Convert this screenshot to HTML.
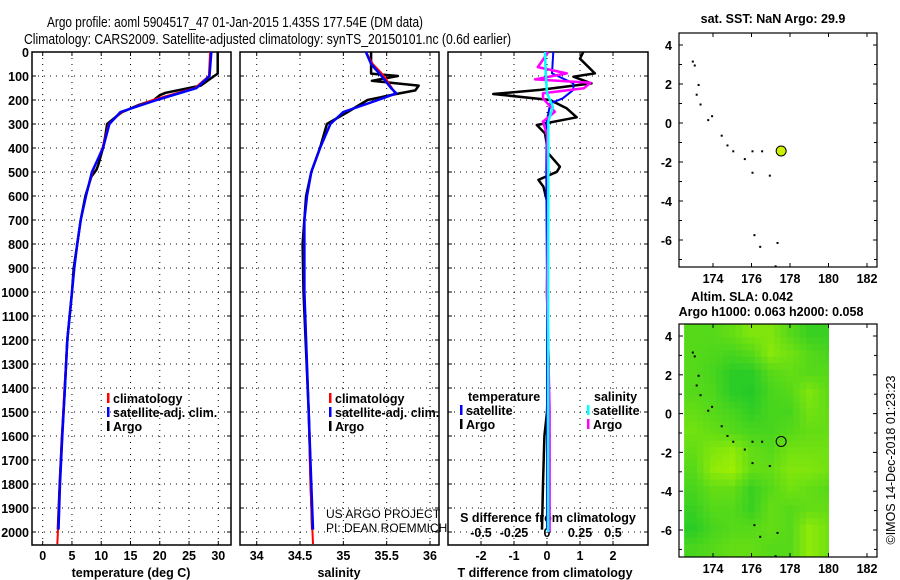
<!DOCTYPE html>
<html><head><meta charset="utf-8"><style>
html,body{margin:0;padding:0;background:#fff;}
svg{display:block;font-family:"Liberation Sans",Arial,sans-serif;}
</style></head><body>
<svg id="c" width="900" height="580" viewBox="0 0 900 580" xmlns="http://www.w3.org/2000/svg">
<text x="47" y="27" font-size="15" textLength="376" lengthAdjust="spacingAndGlyphs">Argo profile: aoml 5904517_47 01-Jan-2015 1.435S 177.54E (DM data)</text>
<text x="24" y="44" font-size="15" textLength="487" lengthAdjust="spacingAndGlyphs">Climatology: CARS2009. Satellite-adjusted climatology: synTS_20150101.nc (0.6d earlier)</text>
<g id="g"></g>
</svg>
<script>
// ---------- data ----------
const depthTicks=[0,100,200,300,400,500,600,700,800,900,1000,1100,1200,1300,1400,1500,1600,1700,1800,1900,2000];
const tTicks=[0,5,10,15,20,25,30];
const sTicks=[34,34.5,35,35.5,36];
const dtTicks=[-2,-1,0,1,2];
const dsTicks=[-0.5,-0.25,0,0.25,0.5];
const dsTickLabels=["-0.5","-0.25","0","0.25","0.5"];
const climTdepth=[0,100,150,200,250,300,400,500,600,700,800,900,1000,1200,1400,1600,1800,2000,2050];
const climT=[28.6,28.4,26,18.8,13.5,11.3,10.2,8.5,7.4,6.5,5.9,5.4,5.0,4.2,3.7,3.3,2.9,2.6,2.5];
const satTdepth=[0,100,150,200,250,300,400,500,600,700,800,900,1000,1200,1400,1600,1800,1990];
const satT=[28.8,28.5,26.3,19.5,13.3,11.4,10.3,8.4,7.4,6.5,5.9,5.4,5.0,4.2,3.8,3.35,2.95,2.7];
const argoTdepth=[0,90,100,140,170,180,200,220,250,270,300,350,400,470,490,520,600,700,820,900,1000,1200,1400,1600,1800,1990];
const argoT=[29.9,29.9,29.3,27.0,21,20,19,16.5,13.6,12.5,11.0,10.7,10.3,9.5,9.2,8.3,7.3,6.5,5.8,5.3,5.0,4.2,3.8,3.3,2.9,2.6];
const climSdepth=[0,50,100,150,175,200,250,300,400,500,600,700,1000,1200,1500,1800,2050];
const climS=[35.26,35.34,35.47,35.56,35.6,35.4,35.0,34.85,34.73,34.63,34.58,34.55,34.55,34.57,34.6,34.62,34.65];
const satSdepth=[0,50,100,150,172,200,250,300,400,500,600,700,1000,1200,1500,1800,1990];
const satS=[35.26,35.32,35.44,35.55,35.61,35.4,35.0,34.85,34.73,34.63,34.58,34.55,34.55,34.57,34.6,34.63,34.65];
const argoSdepth=[0,50,90,100,120,140,160,175,200,250,300,400,500,600,800,1000,1500,1990];
const argoS=[35.32,35.32,35.32,35.63,35.33,35.87,35.83,35.61,35.28,35.05,34.81,34.73,34.63,34.57,34.53,34.54,34.6,34.64];
const dTargoDepth=[0,28,89,103,131,158,175,200,235,272,304,339,422,478,499,533,561,644,783,1000,1300,1500,1600,1800,1990];
const dTargo=[1.1,1.0,1.45,0.8,1.35,-0.21,-1.63,0.09,0.6,0.9,-0.31,-0.06,0.04,0.39,0.3,-0.26,-0.11,0.04,0.02,0.0,0.05,0.0,-0.08,-0.12,-0.15];
const dTsatDepth=[0,89,131,158,193,214,290,500,1000,1500,1990];
const dTsat=[0.19,0.15,0.8,0.8,0.48,0.1,-0.01,-0.02,0.0,0.0,0.0];
const dSargoDepth=[0,63,89,114,128,151,172,193,249,290,345,600,1000,1500,1800,2000];
const dSargo=[0.01,-0.07,0.15,-0.09,0.33,0.28,-0.03,-0.03,0.06,-0.03,0.0,0.01,0.0,0.02,0.02,0.02];
const dSsatDepth=[0,89,172,228,290,600,1000,1500,2000];
const dSsat=[-0.015,-0.01,0.0,0.045,0.01,0.01,0.008,0.008,0.008];
// map data
const lonTicks=[174,176,178,180,182];
const latTicks=[4,2,0,-2,-4,-6];
const argoLon=177.54, argoLat=-1.435;
const slaLon0=172.5, slaLat0=4.6;
const slaGrid=[
[0.4,0.4,0.5,0.7,0.7,0.4,0.2,0.2],
[0.4,0.35,0.3,0.4,0.75,0.6,0.4,0.3],
[0.4,0.3,0.1,0.1,0.4,0.5,0.4,0.4],
[0.4,0.35,0.1,0.05,0.3,0.4,0.7,0.45],
[0.5,0.4,0.3,0.15,0.3,0.3,0.6,0.5],
[0.6,0.5,0.4,0.3,0.3,0.4,0.5,0.5],
[0.5,0.7,0.8,0.5,0.4,0.6,0.6,0.6],
[0.4,0.8,0.9,0.5,0.5,0.7,0.7,0.6],
[0.3,0.5,0.5,0.2,0.4,0.6,0.5,0.4],
[0.2,0.4,0.4,0.2,0.5,0.4,0.5,0.5],
[0.1,0.3,0.4,0.4,0.5,0.4,0.8,0.6],
[0.3,0.4,0.5,0.5,0.4,0.4,0.8,0.6]];
const islandLon=[172.9,173.0,173.2,173.1,173.3,173.7,173.9,174.4,174.7,175.0,175.6,176.0,176.5,176.0,176.9,176.1,176.4,177.3,177.2];
const islandLat=[3.2,3.0,2.0,1.5,1.0,0.2,0.4,-0.6,-1.1,-1.4,-1.8,-1.4,-1.4,-2.5,-2.65,-5.7,-6.3,-6.1,-7.3];

// ---------- drawing ----------
const NS="http://www.w3.org/2000/svg";
const G=document.getElementById('g');
function mk(tag,attrs,parent){const e=document.createElementNS(NS,tag);for(const k in attrs)e.setAttribute(k,attrs[k]);(parent||G).appendChild(e);return e;}
function txt(x,y,s,size,anchor,bold,parent){const t=mk('text',{x:x,y:y,'font-size':size,'text-anchor':anchor||'start'},parent);if(bold)t.setAttribute('font-weight','bold');t.textContent=s;return t;}

const PT=52, PB=545;
function yD(d){return PT+d*0.24;}
function makePanel(name,x0,x1,vmin,vmax){
  const g=mk('g',{});
  
  
  return {g:g,x0:x0,x1:x1,sx:v=>x0+(v-vmin)/(vmax-vmin)*(x1-x0)};
}
function grid(p,xt){
  depthTicks.forEach(d=>{const y=yD(d);mk('line',{x1:p.x0,x2:p.x1,y1:y,y2:y,stroke:'#000','stroke-width':1,'stroke-dasharray':'1,5'},p.g);
    mk('line',{x1:p.x0,x2:p.x0+4,y1:y,y2:y,stroke:'#000'},p.g);mk('line',{x1:p.x1-4,x2:p.x1,y1:y,y2:y,stroke:'#000'},p.g);});
  xt.forEach(v=>{const x=p.sx(v);mk('line',{x1:x,x2:x,y1:PT,y2:PB,stroke:'#000','stroke-dasharray':'1,5'},p.g);
    mk('line',{x1:x,x2:x,y1:PB-4,y2:PB,stroke:'#000'},p.g);mk('line',{x1:x,x2:x,y1:PT,y2:PT+4,stroke:'#000'},p.g);});
  mk('rect',{x:p.x0,y:PT,width:p.x1-p.x0,height:PB-PT,fill:'none',stroke:'#000','stroke-width':1.5},p.g);
}
function line(p,depths,vals,sxf,color,w,name){
  const pts=depths.map((d,i)=>sxf(vals[i]).toFixed(1)+','+yD(d).toFixed(1)).join(' ');
  const e=mk('polyline',{points:pts,fill:'none',stroke:color,'stroke-width':w,'stroke-linejoin':'round'},p.g);
  
  
}
function legendEntry(p,x,y,color,label,name){
  const g=mk('g',{},p.g);
  
  
  mk('rect',{x:x,y:y-10,width:2.5,height:10,fill:color},g);
  txt(x+6,y,label,12.5,'start',true,g);
}

// Panel 1: temperature
const p1=makePanel('temperature-panel',32,231,(32-42.7)/5.853,(231-42.7)/5.853);
grid(p1,tTicks);
depthTicks.forEach(d=>txt(29,yD(d)+5,String(d),12.5,'end',true,p1.g));
tTicks.forEach(v=>txt(p1.sx(v),560,String(v),12.5,'middle',true,p1.g));
txt(131,577,'temperature (deg C)',12.5,'middle',true,p1.g);
line(p1,argoTdepth,argoT,p1.sx,'#000',2.5,'argo-temperature-line');
line(p1,climTdepth,climT,p1.sx,'#f00',2,'clim-temperature-line');
line(p1,satTdepth,satT,p1.sx,'#00f',2.5,'satellite-temperature-line');
legendEntry(p1,107,403,'#f00','climatology','legend-climatology');
legendEntry(p1,107,417,'#00f','satellite-adj. clim.','legend-satellite');
legendEntry(p1,107,431,'#000','Argo','legend-argo');

// Panel 2: salinity
const p2=makePanel('salinity-panel',240,439,34+(240-256.7)/86.65,34+(439-256.7)/86.65);
grid(p2,sTicks);
sTicks.forEach(v=>txt(p2.sx(v),560,String(v),12.5,'middle',true,p2.g));
txt(339,577,'salinity',12.5,'middle',true,p2.g);
line(p2,argoSdepth,argoS,p2.sx,'#000',2.5,'argo-salinity-line');
line(p2,climSdepth,climS,p2.sx,'#f00',2,'clim-salinity-line');
line(p2,satSdepth,satS,p2.sx,'#00f',2.5,'satellite-salinity-line');
legendEntry(p2,329,403,'#f00','climatology','legend-climatology-s');
legendEntry(p2,329,417,'#00f','satellite-adj. clim.','legend-satellite-s');
legendEntry(p2,329,431,'#000','Argo','legend-argo-s');
txt(326,518,'US ARGO PROJECT',12,'start',false,p2.g);
txt(326,532,'PI: DEAN ROEMMICH',12,'start',false,p2.g);

// Panel 3: differences
const p3=makePanel('difference-panel',448,648,-3,(648-547)/33);
const sxS=v=>547+v*132;
grid(p3,dtTicks);
dtTicks.forEach(v=>txt(p3.sx(v),560,String(v),12.5,'middle',true,p3.g));
dsTicks.forEach((v,i)=>txt(sxS(v),537,dsTickLabels[i],12.5,'middle',true,p3.g));
txt(548,522,'S difference from climatology',12.5,'middle',true,p3.g);
txt(545,577,'T difference from climatology',12.5,'middle',true,p3.g);
line(p3,dTargoDepth,dTargo,p3.sx,'#000',2.5,'argo-tdiff-line');
line(p3,dTsatDepth,dTsat,p3.sx,'#00f',2,'satellite-tdiff-line');
line(p3,dSargoDepth,dSargo,sxS,'#f0f',2.5,'argo-sdiff-line');
line(p3,dSsatDepth,dSsat,sxS,'#0ff',2.5,'satellite-sdiff-line');
txt(468,401,'temperature',12.5,'start',true,p3.g);
txt(594,401,'salinity',12.5,'start',true,p3.g);
legendEntry(p3,460,415,'#00f','satellite','legend-tdiff-satellite');
legendEntry(p3,460,429,'#000','Argo','legend-tdiff-argo');
legendEntry(p3,587,415,'#0ff','satellite','legend-sdiff-satellite');
legendEntry(p3,587,429,'#f0f','Argo','legend-sdiff-argo');

// Maps
function makeMap(name,top,bot,lat4y,latm6y){
  const g=mk('g',{});
  
  
  const L=679,R=877;
  const mx=lon=>713+(lon-174)*19.25;
  const my=lat=>lat4y+(4-lat)*(latm6y-lat4y)/10;
  return {g,L,R,top,bot,mx,my};
}
function mapFrame(m){
  mk('rect',{x:m.L,y:m.top,width:m.R-m.L,height:m.bot-m.top,fill:'none',stroke:'#000','stroke-width':1.2},m.g);
  lonTicks.forEach(v=>{const x=m.mx(v);mk('line',{x1:x,x2:x,y1:m.bot,y2:m.bot-4,stroke:'#000'},m.g);mk('line',{x1:x,x2:x,y1:m.top,y2:m.top+4,stroke:'#000'},m.g);
    txt(x,m.bot+16,String(v),12.5,'middle',true,m.g);});
  latTicks.forEach(v=>{const y=m.my(v);mk('line',{x1:m.L,x2:m.L+4,y1:y,y2:y,stroke:'#000'},m.g);mk('line',{x1:m.R,x2:m.R-4,y1:y,y2:y,stroke:'#000'},m.g);
    txt(m.L-7,y+5,String(v),12.5,'end',true,m.g);});
  [5,3,1,-1,-3,-5,-7].forEach(v=>{const y=m.my(v);if(y>m.top&&y<m.bot){mk('line',{x1:m.L,x2:m.L+3,y1:y,y2:y,stroke:'#000'},m.g);mk('line',{x1:m.R,x2:m.R-3,y1:y,y2:y,stroke:'#000'},m.g);}});
}
function islands(m){
  islandLon.forEach((lon,i)=>{const x=m.mx(lon),y=m.my(islandLat[i]);
    const e=mk('rect',{x:x,y:y,width:2,height:2,fill:'#000'},m.g);
    
    });
}
const m1=makeMap('sst-map',33,267,45,240);
txt(773,23,'sat. SST: NaN Argo: 29.9',12.5,'middle',true,m1.g);
islands(m1);
mapFrame(m1);
const c1=mk('circle',{cx:m1.mx(argoLon),cy:m1.my(argoLat),r:5,fill:'#ccf000',stroke:'#000'},m1.g);



const m2=makeMap('sla-map',324,557,336,530);
txt(742,301,'Altim. SLA: 0.042',12.5,'middle',true,m2.g);
txt(771,316,'Argo h1000: 0.063 h2000: 0.058',12.5,'middle',true,m2.g);
function slaColor(v){const a=[0x1e,0xc8,0x2a],b=[0xaa,0xf2,0x00];return 'rgb('+a.map((c,i)=>Math.round(c+(b[i]-c)*v)).join(',')+')';}
function slaAt(r,c){ // bilinear sample of grid (cell centers)
  const nr=slaGrid.length,nc=slaGrid[0].length;
  r=Math.max(0,Math.min(nr-1,r));c=Math.max(0,Math.min(nc-1,c));
  const r0=Math.floor(r),c0=Math.floor(c),r1=Math.min(nr-1,r0+1),c1=Math.min(nc-1,c0+1),fr=r-r0,fc=c-c0;
  return (slaGrid[r0][c0]*(1-fc)+slaGrid[r0][c1]*fc)*(1-fr)+(slaGrid[r1][c0]*(1-fc)+slaGrid[r1][c1]*fc)*fr;
}
const SUB=3;
for(let r=0;r<slaGrid.length*SUB;r++)for(let c=0;c<slaGrid[0].length*SUB;c++){
  const lonA=slaLon0+c/SUB,lonB=slaLon0+(c+1)/SUB,latA=slaLat0-r/SUB,latB=slaLat0-(r+1)/SUB;
  const x0=Math.max(m2.L,m2.mx(lonA)),x1=Math.min(m2.mx(180),m2.mx(lonB));
  const y0=Math.max(m2.top,m2.my(latA)),y1=Math.min(m2.bot,m2.my(latB));
  if(x1>x0&&y1>y0){
    const v=slaAt((r+0.5)/SUB-0.5,(c+0.5)/SUB-0.5);
    const e=mk('rect',{x:x0,y:y0,width:x1-x0+0.5,height:y1-y0+0.5,fill:slaColor(v)},m2.g);
    
    
  }
}
islands(m2);
mapFrame(m2);
const c2=mk('circle',{cx:m2.mx(argoLon),cy:m2.my(argoLat),r:5,fill:'none',stroke:'#000'},m2.g);


const cr=txt(0,0,'©IMOS 14-Dec-2018 01:23:23',12.5,'middle',false,G);
cr.setAttribute('transform','translate(895,460) rotate(-90)');


</script>
</body></html>
